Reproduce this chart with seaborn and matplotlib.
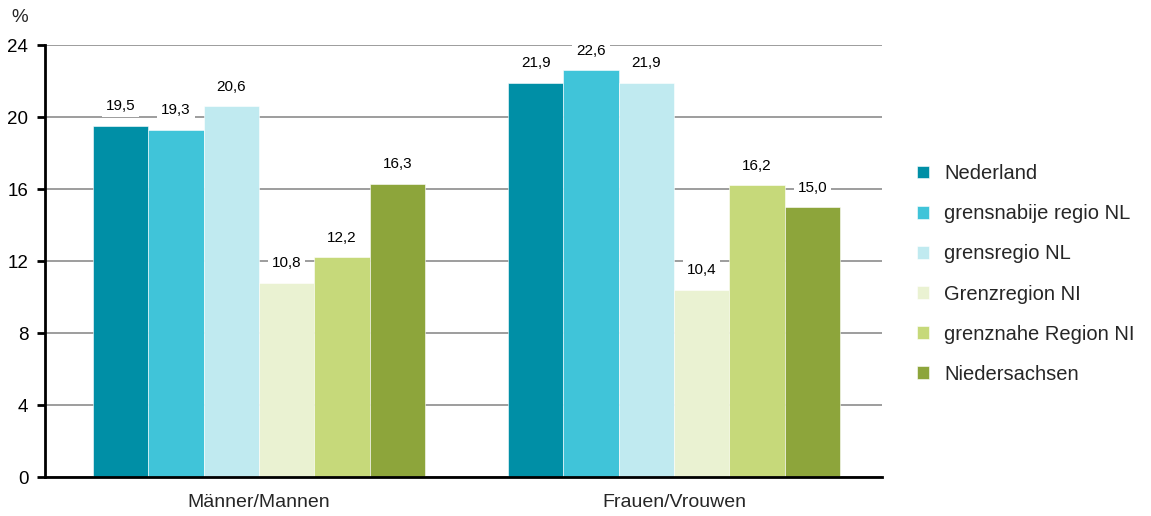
import matplotlib
matplotlib.use("Agg")
import matplotlib.pyplot as plt
import seaborn as sns
import pandas as pd

categories = ["Männer/Mannen", "Frauen/Vrouwen"]
series = ["Nederland", "grensnabije regio NL", "grensregio NL",
          "Grenzregion NI", "grenznahe Region NI", "Niedersachsen"]
values_men = [19.5, 19.3, 20.6, 10.8, 12.2, 16.3]
values_women = [21.9, 22.6, 21.9, 10.4, 16.2, 15.0]
colors = ["#008FA6", "#40C4D9", "#C0EAF0", "#EAF2D2", "#C6D97A", "#8DA53B"]
yticks = [0, 4, 8, 12, 16, 20, 24]

rows = []
for s, m, w in zip(series, values_men, values_women):
    rows.append({"cat": categories[0], "series": s, "val": m})
    rows.append({"cat": categories[1], "series": s, "val": w})
df = pd.DataFrame(rows)

sns.set_theme(style="white")
plt.rcParams["font.family"] = ["Liberation Sans", "DejaVu Sans"]

fig = plt.figure(figsize=(11.51, 5.16), dpi=100)
ax = fig.add_axes([45 / 1151, 1 - 477 / 516, 837 / 1151, 432 / 516])

sns.barplot(data=df, x="cat", y="val", hue="series", order=categories,
            hue_order=series, palette=colors, width=0.8, saturation=1,
            edgecolor="white", linewidth=0.4,
            ax=ax, legend=True)

for c in ax.containers:
    ax.bar_label(c, labels=[f"{v:.1f}".replace(".", ",") for v in c.datavalues],
                 padding=9, fontsize=11, color="black",
                 bbox=dict(boxstyle="square,pad=0.25", fc="white", ec="none"))

ax.set_ylim(0, 24)
ax.set_yticks(yticks)
ax.set_xlim(-0.516, 1.501)
ax.yaxis.grid(True, color="#8C8C8C", linewidth=1.2)
ax.set_axisbelow(True)
for side in ["top", "right"]:
    ax.spines[side].set_visible(False)
for side in ["left", "bottom"]:
    ax.spines[side].set_color("black")
    ax.spines[side].set_linewidth(2)
ax.tick_params(axis="y", which="both", left=True, length=6, width=2,
               direction="out", labelsize=13.5, colors="black", pad=6)
ax.tick_params(axis="x", bottom=False, labelsize=14, pad=6)
ax.set_xlabel("")
ax.set_ylabel("")

fig.text(20 / 1151, 1 - 18 / 516, "%", fontsize=13.5, ha="center", va="center")

leg = ax.legend(loc="center left", bbox_to_anchor=(899 / 1151, 1 - 274 / 516),
                bbox_transform=fig.transFigure, frameon=False, fontsize=14.5,
                handlelength=0.6, handleheight=0.6, handletextpad=0.75,
                labelspacing=1.05)

fig.savefig("out.png", dpi=100, facecolor="white")
